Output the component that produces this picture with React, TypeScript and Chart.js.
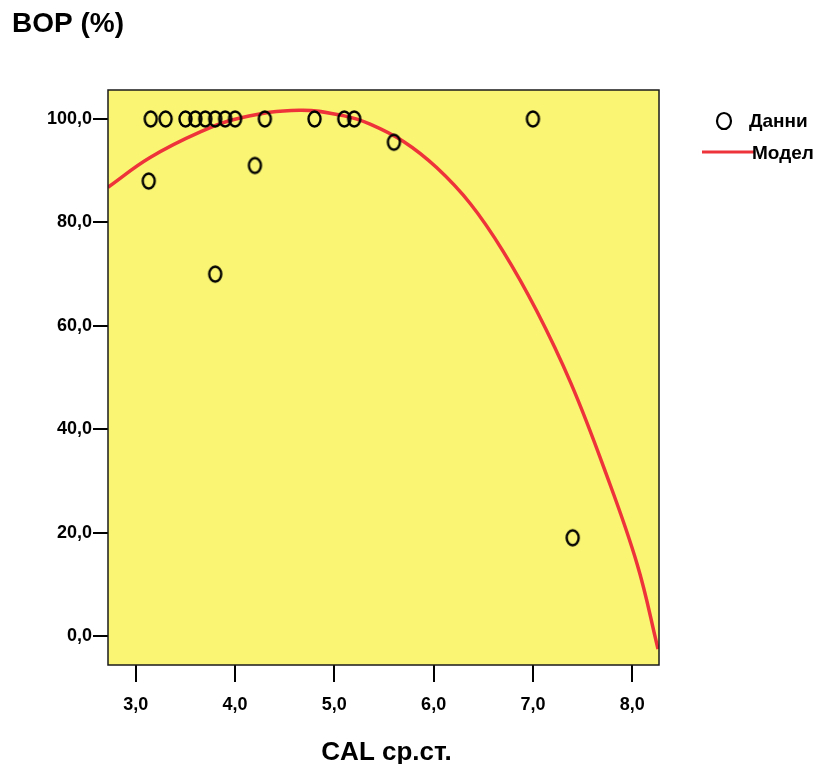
import React, { useEffect, useRef } from "react";
import { Chart, registerables } from "chart.js";

Chart.register(...registerables);

// Observed values: CAL (x) against BOP % (y)
const calValues = [3.15, 3.3, 3.5, 3.6, 3.7, 3.8, 3.9, 4.0, 4.3, 4.8, 5.1, 5.2, 7.0, 3.13, 3.8, 4.2, 5.6, 7.4];
const bopValues = [100, 100, 100, 100, 100, 100, 100, 100, 100, 100, 100, 100, 100, 88, 70, 91, 95.5, 19];

// Fitted model curve, sampled along the x range
const modelX = [2.72, 3.14, 3.65, 4.05, 4.65, 5.1, 5.36, 5.7, 6.03, 6.37, 6.7, 7.04, 7.38, 7.71, 8.05, 8.26];
const modelY = [86.8, 92.5, 97.5, 100.2, 101.7, 100.6, 99.0, 95.6, 90.6, 83.6, 74.4, 62.8, 49.0, 32.8, 13.9, -2.5];

const xTicks = [3, 4, 5, 6, 7, 8];
const yTicks = [0, 20, 40, 60, 80, 100];

const FONT = "Arial, 'Liberation Sans', sans-serif";
const PLOT_BG = "rgb(250,246,116)";
const RED = "rgb(238,52,58)";

function makeRing(rx: number, ry: number, lw: number): HTMLCanvasElement {
  const c = document.createElement("canvas");
  c.width = Math.ceil(rx * 2 + lw * 2 + 2);
  c.height = Math.ceil(ry * 2 + lw * 2 + 2);
  const ctx = c.getContext("2d")!;
  ctx.strokeStyle = "#000";
  ctx.lineWidth = lw;
  ctx.beginPath();
  ctx.ellipse(c.width / 2, c.height / 2, rx, ry, 0, 0, Math.PI * 2);
  ctx.stroke();
  return c;
}

const fmt = (v: number) => v.toFixed(1).replace(".", ",");

export default function App() {
  const ref = useRef<HTMLCanvasElement | null>(null);

  useEffect(() => {
    if (!ref.current) return;
    const ring = makeRing(6, 7.5, 2.4);

    const decor = {
      id: "decor",
      beforeDatasetsDraw(chart: any) {
        const { ctx, chartArea: a } = chart;
        ctx.save();
        ctx.fillStyle = PLOT_BG;
        ctx.fillRect(a.left, a.top, a.right - a.left, a.bottom - a.top);
        ctx.restore();
      },
      afterDraw(chart: any) {
        const { ctx, chartArea: a } = chart;
        ctx.save();
        ctx.strokeStyle = "#1a1a1a";
        ctx.lineWidth = 1.5;
        ctx.strokeRect(a.left, a.top, a.right - a.left, a.bottom - a.top);

        ctx.fillStyle = "#000";
        ctx.textBaseline = "alphabetic";
        ctx.textAlign = "left";
        ctx.font = `bold 28px ${FONT}`;
        ctx.fillText("BOP (%)", 12, 32);

        ctx.textAlign = "center";
        ctx.font = `bold 26px ${FONT}`;
        ctx.fillText("CAL ср.ст.", (a.left + a.right) / 2 + 3, 760);

        // legend
        ctx.strokeStyle = "#000";
        ctx.lineWidth = 2.2;
        ctx.beginPath();
        ctx.ellipse(724, 121, 7, 8, 0, 0, Math.PI * 2);
        ctx.stroke();
        ctx.strokeStyle = RED;
        ctx.lineWidth = 3;
        ctx.beginPath();
        ctx.moveTo(702, 152);
        ctx.lineTo(754, 152);
        ctx.stroke();
        ctx.textAlign = "left";
        ctx.font = `bold 19px ${FONT}`;
        ctx.fillStyle = "#000";
        ctx.fillText("Данни", 749, 127);
        ctx.fillText("Модел", 752, 159);
        ctx.restore();
      },
    };

    const chart = new Chart(ref.current, {
      type: "scatter",
      data: {
        datasets: [
          {
            label: "Модел",
            type: "line",
            data: modelX.map((x, i) => ({ x, y: modelY[i] })),
            borderColor: RED,
            borderWidth: 3.5,
            pointRadius: 0,
            tension: 0.4,
            fill: false,
            order: 2,
          } as any,
          {
            label: "Данни",
            data: calValues.map((x, i) => ({ x, y: bopValues[i] })),
            pointStyle: ring,
            pointRadius: 8,
            order: 1,
          } as any,
        ],
      },
      options: {
        responsive: false,
        animation: false,
        layout: { padding: { left: 0, top: 90, right: 157, bottom: 0 } },
        plugins: { legend: { display: false }, title: { display: false }, tooltip: { enabled: false } },
        scales: {
          x: {
            type: "linear",
            min: 2.72,
            max: 8.27,
            afterFit: (s: any) => { s.height = 99; },
            afterBuildTicks: (s: any) => { s.ticks = xTicks.map((v) => ({ value: v })); },
            grid: { drawOnChartArea: false, drawTicks: true, tickLength: 17, color: "#000", lineWidth: 2 },
            border: { display: false },
            ticks: {
              padding: 12,
              color: "#000",
              font: { family: FONT, size: 18, weight: "bold" },
              callback: (v: any) => fmt(Number(v)),
            },
          },
          y: {
            type: "linear",
            min: -5.6,
            max: 105.6,
            afterFit: (s: any) => { s.width = 108; },
            afterBuildTicks: (s: any) => { s.ticks = yTicks.map((v) => ({ value: v })); },
            grid: { drawOnChartArea: false, drawTicks: true, tickLength: 15, color: "#000", lineWidth: 2 },
            border: { display: false },
            ticks: {
              padding: 1,
              color: "#000",
              font: { family: FONT, size: 18, weight: "bold" },
              callback: (v: any) => fmt(Number(v)),
            },
          },
        },
      },
      plugins: [decor],
    });
    return () => chart.destroy();
  }, []);

  return (
    <div style={{ position: "fixed", left: 0, top: 0, width: 816, height: 764, background: "#fff" }}>
      <canvas ref={ref} width={816} height={764} style={{ display: "block" }} />
    </div>
  );
}
